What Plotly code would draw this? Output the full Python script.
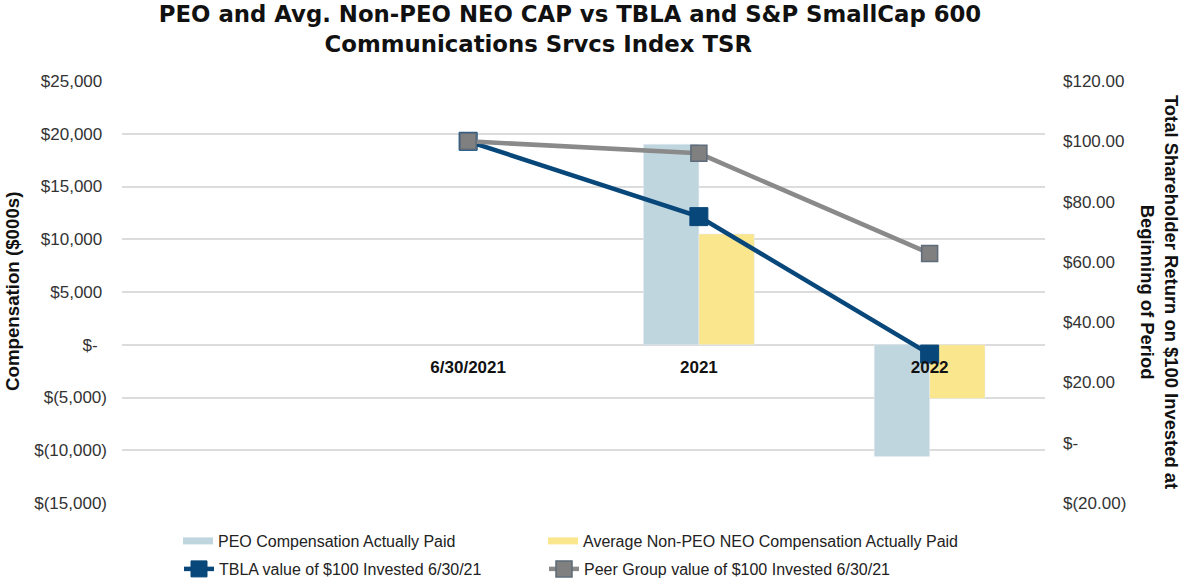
import plotly.graph_objects as go

categories = [" ", "6/30/2021", "2021", "2022"]
peo_cap = [None, None, 19000, -10600]
neo_cap = [None, None, 10500, -5100]
tbla_tsr = [None, 100, 75, 29.4]
peer_tsr = [None, 100, 96, 62.8]

left_ticks = [25000, 20000, 15000, 10000, 5000, 0, -5000, -10000, -15000]
left_labels = ["$25,000\u00a0", "$20,000\u00a0", "$15,000\u00a0", "$10,000\u00a0", "$5,000\u00a0",
               "$-\u00a0\u00a0", "$(5,000)", "$(10,000)", "$(15,000)"]
right_ticks = [120, 100, 80, 60, 40, 20, 0, -20]
right_labels = ["$120.00", "$100.00", "$80.00", "$60.00", "$40.00", "$20.00", "$-", "$(20.00)"]

title_line1 = "PEO and Avg. Non-PEO NEO CAP vs TBLA and S&P SmallCap 600"
title_line2 = "Communications Srvcs Index TSR"

PEO_C = "#c0d6de"
NEO_C = "#fae68c"
TBLA_C = "#08477a"
PEER_C = "#8a8a8a"

W, H = 1184, 582
ML, MR, MT, MB = 122, 139, 81, 79
PW = W - ML - MR
FONT = "Liberation Sans, Arial, sans-serif"
TITLE_FONT = "DejaVu Sans, Liberation Sans, sans-serif"

fig = go.Figure()
fig.add_trace(go.Bar(x=categories, y=peo_cap, marker_color=PEO_C, showlegend=False,
                     name="PEO Compensation Actually Paid"))
fig.add_trace(go.Bar(x=categories, y=neo_cap, marker_color=NEO_C, showlegend=False,
                     name="Average Non-PEO NEO Compensation Actually Paid"))
# legend swatches for the bars
fig.add_trace(go.Scatter(x=[None], y=[None], mode="lines", line=dict(color=PEO_C, width=7),
                         name="PEO Compensation Actually Paid", legend="legend"))
fig.add_trace(go.Scatter(x=[None], y=[None], mode="lines", line=dict(color=NEO_C, width=7),
                         name="Average Non-PEO NEO Compensation Actually Paid", legend="legend2"))
fig.add_trace(go.Scatter(x=categories, y=tbla_tsr, yaxis="y2", mode="lines+markers",
                         line=dict(color=TBLA_C, width=4.5),
                         marker=dict(symbol="square", size=18, color=TBLA_C,
                                     line=dict(color=TBLA_C, width=1)),
                         name="TBLA value of $100 Invested 6/30/21", legend="legend3"))
fig.add_trace(go.Scatter(x=categories, y=peer_tsr, yaxis="y2", mode="lines+markers",
                         line=dict(color=PEER_C, width=4.5),
                         marker=dict(symbol="square", size=16, color="#808080",
                                     line=dict(color="#5d6b7a", width=1.5)),
                         name="Peer Group value of $100 Invested 6/30/21", legend="legend4"))


def leg(xpx, ypx):
    return dict(orientation="h", xref="container", yref="container",
                x=xpx / W, y=1 - ypx / H, xanchor="left", yanchor="middle",
                font=dict(family=FONT, size=16, color="#222"),
                bgcolor="rgba(0,0,0,0)")


fig.update_layout(
    width=W, height=H,
    margin=dict(l=ML, r=MR, t=MT, b=MB, autoexpand=False),
    paper_bgcolor="white", plot_bgcolor="white",
    barmode="group", bargap=0.52, bargroupgap=0,
    font=dict(family=FONT, color="#333"),
    title=dict(text="<b>" + title_line1 + "<br>" + title_line2 + "\u00a0" * 8 + "</b>",
               x=570 / W, xref="container", xanchor="center",
               y=1 - 22 / H, yref="container", yanchor="top",
               font=dict(family=TITLE_FONT, size=22.8, color="#111")),
    xaxis=dict(type="category", categoryorder="array", categoryarray=categories,
               range=[-0.5, len(categories) - 0.5],
               anchor="free", position=15000 / 40000,
               showline=False, showgrid=False, zeroline=False, ticks="",
               ticklabelstandoff=10,
               tickfont=dict(family=FONT, size=17, color="#111", weight="bold")),
    yaxis=dict(range=[-15000, 25000], tickvals=left_ticks, ticktext=left_labels,
               showgrid=True, gridcolor="#dcdcdc", gridwidth=1.5, zeroline=True,
               zerolinecolor="#dcdcdc", zerolinewidth=1.5, showline=False, ticks="",
               ticklabelstandoff=14,
               tickfont=dict(family=FONT, size=17, color="#333")),
    yaxis2=dict(range=[-20, 120], tickvals=right_ticks, ticktext=right_labels,
                overlaying="y", side="right", showgrid=False, zeroline=False,
                showline=False, ticks="", ticklabelstandoff=17,
                tickfont=dict(family=FONT, size=17, color="#333")),
    legend=leg(178, 541),
    legend2=leg(543, 541),
    legend3=leg(179, 569),
    legend4=leg(544, 569),
    annotations=[
        dict(text="<b>Compensation ($000s)</b>", textangle=-90, xref="paper", yref="paper",
             x=(12 - ML) / PW, y=0.5, xanchor="center", yanchor="middle", showarrow=False,
             font=dict(family=FONT, size=18.7, color="#111")),
        dict(text="<b>Total Shareholder Return on $100 Invested at<br>Beginning of Period</b>",
             textangle=90, xref="paper", yref="paper",
             x=(1160 - ML) / PW, y=0.5, xanchor="center", yanchor="middle", showarrow=False,
             font=dict(family=FONT, size=18.4, color="#111")),
    ],
)

fig.write_html("out.html", config={"displayModeBar": False},
               post_script="document.body.style.margin='0px';")
